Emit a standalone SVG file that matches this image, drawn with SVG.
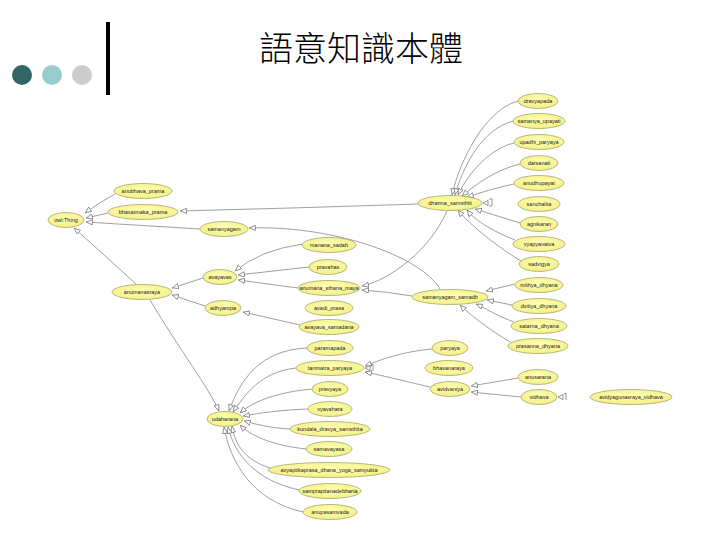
<svg xmlns="http://www.w3.org/2000/svg" width="720" height="540" viewBox="0 0 720 540">
<defs>
<marker id="tri" viewBox="0 0 8 7" refX="8" refY="3.5" markerWidth="7" markerHeight="6" markerUnits="userSpaceOnUse" orient="auto">
<path d="M0.5,0.5 L7.5,3.5 L0.5,6.5 Z" fill="#ffffff" stroke="#666666" stroke-width="0.8"/>
</marker>
<radialGradient id="yg" cx="0.5" cy="0.4" r="0.6">
<stop offset="0" stop-color="#ffffb0"/>
<stop offset="1" stop-color="#f3f08a"/>
</radialGradient>
</defs>
<style>
.n ellipse{fill:url(#yg);stroke:#a8a66a;stroke-width:0.8}
.n text{font-family:"Liberation Sans",Arial,sans-serif;font-size:5.5px;fill:#1a1a1a;text-anchor:middle;dominant-baseline:central}
#edges path{fill:none;stroke:#777777;stroke-width:0.7;marker-end:url(#tri)}
.mk{fill:#ffffff;stroke:#666666;stroke-width:0.7}
</style>
<rect width="720" height="540" fill="#ffffff"/>
<g id="decor">
<ellipse cx="22" cy="75" rx="10" ry="10" fill="#336666"/>
<ellipse cx="52" cy="75" rx="10" ry="10" fill="#99cccc"/>
<ellipse cx="82" cy="75" rx="10" ry="10" fill="#cccccc"/>
<rect x="106" y="22" width="4" height="73" fill="#000000"/>
<text x="361" y="61" font-family="'Noto Sans CJK TC','Noto Sans CJK SC',sans-serif" font-size="34" font-weight="300" text-anchor="middle" fill="#000000">語意知識本體</text>
</g>
<g id="edges">
<path d="M115,194 Q100,202 85,213"/>
<path d="M108,213 L86,218"/>
<path d="M200,229 Q150,226 86,222"/>
<path d="M137,285 Q110,260 74,228"/>
<path d="M418,204 Q300,208 180,211"/>
<path d="M440,289 C420,255 330,225 249,228"/>
<path d="M447,211 C430,250 390,280 362,286"/>
<path d="M412,296 Q390,292 362,290"/>
<path d="M203,278 L172,288"/>
<path d="M205,306 L172,295"/>
<path d="M303,244 Q260,250 235,271"/>
<path d="M309,267 L238,275"/>
<path d="M298,288 L238,280"/>
<path d="M300,325 L243,312"/>
<path d="M518,101 C485,110 460,160 452,195"/>
<path d="M513,121 C480,130 462,170 455,195"/>
<path d="M514,143 C485,150 465,180 458,195"/>
<path d="M520,164 C495,170 475,185 462,196"/>
<path d="M514,184 C495,188 480,193 467,197"/>
<path d="M520,223 L475,209"/>
<path d="M515,240 C490,230 475,220 467,210"/>
<path d="M521,261 C495,245 470,225 458,210"/>
<path d="M515,284 L486,291"/>
<path d="M512,305 L487,300"/>
<path d="M514,322 C495,315 485,308 476,304"/>
<path d="M510,342 C490,330 470,315 460,305"/>
<path d="M432,349 C400,352 380,360 365,366"/>
<path d="M430,387 C400,380 380,375 365,372"/>
<path d="M518,378 L471,386"/>
<path d="M521,397 L471,392"/>
<path d="M150,300 C180,350 210,390 219,411"/>
<path d="M307,348 C260,350 240,380 229,411"/>
<path d="M296,368 C260,372 245,395 233,412"/>
<path d="M312,389 C280,392 255,400 240,413"/>
<path d="M308,409 C280,410 260,413 243,416"/>
<path d="M290,429 C270,428 255,424 244,421"/>
<path d="M306,449 C270,445 250,435 240,425"/>
<path d="M270,468 C245,460 235,445 232,426"/>
<path d="M299,490 C255,480 235,455 228,427"/>
<path d="M303,512 C250,500 230,460 224,427"/>
</g>
<g id="loops">
<path class="mk" d="M483,203 L488,200.5 L488,205.5 Z"/>
<path d="M489,199 L492,199 L492,206 L489,206" fill="none" stroke="#666666" stroke-width="0.7"/>
<path class="mk" d="M365,368 L370,365.5 L370,370.5 Z"/>
<path d="M371,365 L373,364 L373,371" fill="none" stroke="#666666" stroke-width="0.7"/>
<path class="mk" d="M558,397 L563,394.5 L563,399.5 Z"/>
<path d="M564,394 L566,393 L566,400" fill="none" stroke="#666666" stroke-width="0.7"/>
</g>
<g id="n_thing" class="n"><ellipse cx="66" cy="220" rx="18" ry="7.5"/><text x="66" y="220">owl:Thing</text></g>
<g id="n_anubhava" class="n"><ellipse cx="143" cy="191" rx="29" ry="7.5"/><text x="143" y="191">anubhava_prama</text></g>
<g id="n_bhavatmaka" class="n"><ellipse cx="143" cy="212" rx="35" ry="7.5"/><text x="143" y="212">bhavatmaka_prama</text></g>
<g id="n_samanyagam" class="n"><ellipse cx="224" cy="229" rx="24" ry="7.5"/><text x="224" y="229">samanyagam</text></g>
<g id="n_anumana" class="n"><ellipse cx="142" cy="292" rx="30" ry="7.5"/><text x="142" y="292">anumanasraya</text></g>
<g id="n_avayavas" class="n"><ellipse cx="220" cy="277" rx="17" ry="7.5"/><text x="220" y="277">avayavas</text></g>
<g id="n_adhyaropa" class="n"><ellipse cx="223" cy="308" rx="18" ry="7.5"/><text x="223" y="308">adhyaropa</text></g>
<g id="n_manana" class="n"><ellipse cx="329" cy="245" rx="27" ry="7.5"/><text x="329" y="245">manana_sadah</text></g>
<g id="n_pravahas" class="n"><ellipse cx="328" cy="267" rx="19" ry="7.5"/><text x="328" y="267">pravahas</text></g>
<g id="n_sthana" class="n"><ellipse cx="329" cy="288" rx="31" ry="7.5"/><text x="329" y="288">anumana_sthana_maya</text></g>
<g id="n_avadi" class="n"><ellipse cx="329" cy="308" rx="24" ry="7.5"/><text x="329" y="308">avadi_prasa</text></g>
<g id="n_samadana" class="n"><ellipse cx="329" cy="327" rx="30" ry="7.5"/><text x="329" y="327">avayava_samadana</text></g>
<g id="n_dharma" class="n"><ellipse cx="450" cy="203" rx="32" ry="7.5"/><text x="450" y="203">dharma_samsthiti</text></g>
<g id="r1" class="n"><ellipse cx="538" cy="101" rx="20" ry="7.5"/><text x="538" y="101">dravyapada</text></g>
<g id="r2" class="n"><ellipse cx="539" cy="121" rx="26" ry="7.5"/><text x="539" y="121">samanya_upayati</text></g>
<g id="r3" class="n"><ellipse cx="539" cy="142" rx="25" ry="7.5"/><text x="539" y="142">upadhi_paryaya</text></g>
<g id="r4" class="n"><ellipse cx="539" cy="163" rx="19" ry="7.5"/><text x="539" y="163">darsanati</text></g>
<g id="r5" class="n"><ellipse cx="539" cy="183" rx="25" ry="7.5"/><text x="539" y="183">anudhupayat</text></g>
<g id="r6" class="n"><ellipse cx="539" cy="204" rx="21" ry="7.5"/><text x="539" y="204">sanchalita</text></g>
<g id="r7" class="n"><ellipse cx="539" cy="224" rx="19" ry="7.5"/><text x="539" y="224">agnikaran</text></g>
<g id="r8" class="n"><ellipse cx="539" cy="244" rx="26" ry="7.5"/><text x="539" y="244">vyapyavatva</text></g>
<g id="r9" class="n"><ellipse cx="539" cy="264" rx="20" ry="7.5"/><text x="539" y="264">sadvigya</text></g>
<g id="r10" class="n"><ellipse cx="539" cy="285" rx="24" ry="7.5"/><text x="539" y="285">mithya_dhyana</text></g>
<g id="r11" class="n"><ellipse cx="539" cy="306" rx="27" ry="7.5"/><text x="539" y="306">dvitiya_dhyana</text></g>
<g id="r12" class="n"><ellipse cx="539" cy="326" rx="28" ry="7.5"/><text x="539" y="326">satarna_dhyana</text></g>
<g id="r13" class="n"><ellipse cx="538" cy="346" rx="30" ry="7.5"/><text x="538" y="346">prasanna_dhyana</text></g>
<g id="n_samadh" class="n"><ellipse cx="450" cy="297" rx="38" ry="7.5"/><text x="450" y="297">samanyagam_samadh</text></g>
<g id="n_paryaya" class="n"><ellipse cx="450" cy="348" rx="18" ry="7.5"/><text x="450" y="348">paryaya</text></g>
<g id="n_bhavan" class="n"><ellipse cx="449" cy="368" rx="24" ry="7.5"/><text x="449" y="368">bhavanaraya</text></g>
<g id="n_avid" class="n"><ellipse cx="450" cy="389" rx="20" ry="7.5"/><text x="450" y="389">avidvaniya</text></g>
<g id="n_anus" class="n"><ellipse cx="538" cy="377" rx="20" ry="7.5"/><text x="538" y="377">anusarana</text></g>
<g id="n_vidh" class="n"><ellipse cx="539" cy="397" rx="18" ry="7.5"/><text x="539" y="397">vidhava</text></g>
<g id="n_long" class="n"><ellipse cx="631" cy="397" rx="41" ry="7.5"/><text x="631" y="397">avidyagunasraya_vidhava</text></g>
<g id="n_udah" class="n"><ellipse cx="225" cy="419" rx="18" ry="7.5"/><text x="225" y="419">udaharana</text></g>
<g id="b1" class="n"><ellipse cx="330" cy="348" rx="23" ry="7.5"/><text x="330" y="348">paramapada</text></g>
<g id="b2" class="n"><ellipse cx="330" cy="368" rx="34" ry="7.5"/><text x="330" y="368">tanmatra_paryaya</text></g>
<g id="b3" class="n"><ellipse cx="330" cy="389" rx="18" ry="7.5"/><text x="330" y="389">pravyaya</text></g>
<g id="b4" class="n"><ellipse cx="330" cy="409" rx="22" ry="7.5"/><text x="330" y="409">vyavahara</text></g>
<g id="b5" class="n"><ellipse cx="330" cy="429" rx="40" ry="7.5"/><text x="330" y="429">kundala_dravya_samsthita</text></g>
<g id="b6" class="n"><ellipse cx="329" cy="449" rx="23" ry="7.5"/><text x="329" y="449">samavayasa</text></g>
<g id="b7" class="n"><ellipse cx="329" cy="470" rx="61" ry="7.5"/><text x="329" y="470">avyaptikaprasa_dhana_yoga_samyukta</text></g>
<g id="b8" class="n"><ellipse cx="330" cy="491" rx="31" ry="7.5"/><text x="330" y="491">samprapitanadebharta</text></g>
<g id="b9" class="n"><ellipse cx="330" cy="512" rx="27" ry="7.5"/><text x="330" y="512">anupasamvada</text></g>
</svg>
